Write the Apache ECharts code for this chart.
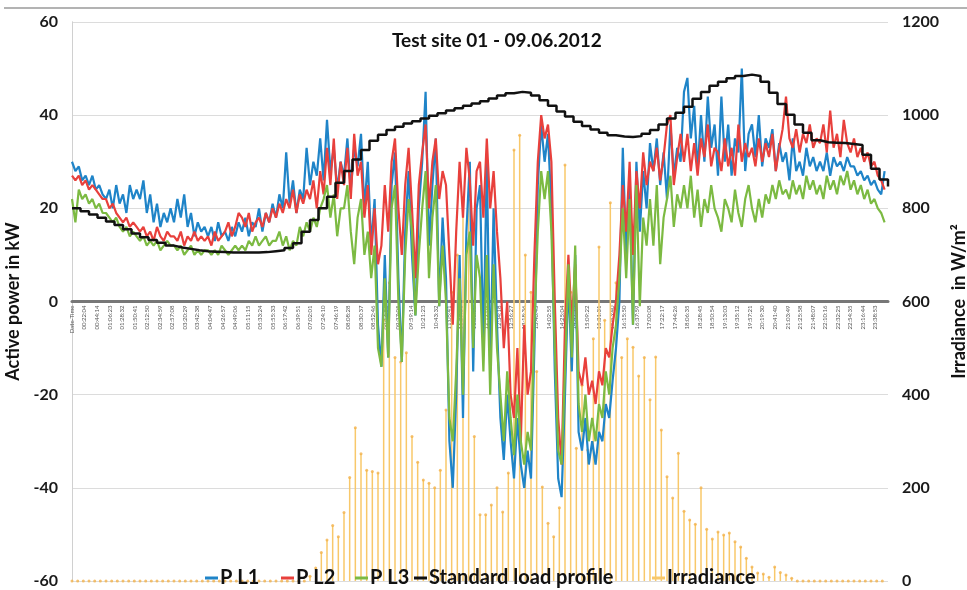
<!DOCTYPE html>
<html>
<head>
<meta charset="utf-8">
<script src="https://cdn.jsdelivr.net/npm/echarts@6/dist/echarts.min.js"></script>
<style>
  html, body { margin: 0; padding: 0; background: #fff; }
  #chart { width: 967px; height: 590px; }
</style>
</head>
<body>
<div id="chart"></div>
<script>
// x axis tick labels (one every ~22 min)
var xLabels = ['Date-Time','00:22:04','00:44:14','01:06:23','01:28:32','01:50:41','02:12:50','02:34:59','02:57:08',
  '03:20:29','03:42:38','04:04:47','04:26:57','04:49:06','05:11:15','05:33:24','05:55:33','06:17:42','06:39:51',
  '07:02:01','07:24:10','07:46:19','08:08:28','08:30:37','08:52:46','09:14:56','09:37:05','09:59:14','10:21:23',
  '10:43:32','11:05:41','11:27:51','11:50:00','12:12:09','12:34:18','12:56:27','13:18:36','13:40:45','14:02:55',
  '14:25:04','14:47:13','15:09:22','15:31:31','15:53:40','16:15:50','16:37:59','17:00:08','17:22:17','17:44:26',
  '18:06:35','18:28:45','18:50:54','19:13:03','19:35:12','19:57:21','20:19:30','20:41:40','21:03:49','21:25:58',
  '21:48:07','22:10:16','22:32:25','22:54:35','23:16:44','23:38:53']

// active power, one value every 6 minutes (kW)
var powerStep = 6
var pL1 = [
  30,28,29,26,27,25,27,24,25,23,  22,24,20,25,21,23,19,25,22,24,
  22,26,19,23,17,21,16,19,17,20,  17,22,18,23,16,19,14,17,15,16,
  14,16,13,17,14,15,13,16,14,17,  15,18,14,17,16,20,15,19,17,21,
  18,23,20,32,21,26,19,24,22,33,  25,30,27,35,26,39,28,33,24,30,
  27,35,24,33,29,36,20,30,12,22,  -5,-14,10,-12,25,32,5,-13,15,28,
  10,-3,20,30,45,12,25,35,-1,18,  5,-30,-40,-20,10,-25,15,30,-15,20,
  25,-10,30,-15,20,-5,-25,-34,-20,-30,  -38,-25,-35,-40,-32,-38,-10,25,38,30,
  36,20,-15,-38,-42,-20,5,-15,10,-28,  -32,-25,-35,-30,-35,-28,-30,-22,-25,-17,
  -10,0,33,10,25,-5,30,15,28,20,  34,28,35,25,32,22,38,27,33,30,
  45,48,35,42,28,40,30,44,33,38,  27,44,30,38,27,35,32,50,28,36,
  38,31,40,29,35,33,37,28,34,30,  32,26,35,28,30,27,33,29,31,28,
  30,28,32,27,31,29,30,28,31,29,  29,27,28,26,27,25,26,24,23,28
]
var pL2 = [
  27,26,27,25,26,24,25,24,23,22,  22,20,21,19,18,17,18,16,17,16,
  15,16,14,15,13,16,14,13,15,14,  14,13,15,12,14,13,15,13,14,13,
  14,12,15,13,14,15,17,14,16,19,  18,16,19,15,17,18,16,19,17,20,
  18,21,19,22,20,24,19,23,21,24,  22,26,20,28,23,33,25,35,22,30,
  25,33,22,36,27,30,18,25,10,20,  8,12,25,15,30,35,20,10,25,33,
  20,5,25,32,38,20,30,35,22,28,  25,10,-5,15,30,18,33,26,12,28,
  30,18,35,20,28,15,5,-10,0,-20,  -25,-10,-30,-5,-20,-15,10,30,40,35,
  38,30,0,-25,-35,-5,10,-5,8,-15,  -18,-12,-20,-17,-22,-15,-18,-10,-12,-5,
  0,10,25,15,30,10,28,20,32,25,  30,28,33,26,31,38,40,25,31,36,
  30,36,28,34,27,35,31,38,29,33,  32,28,35,29,33,27,38,30,34,31,
  33,29,35,30,34,31,36,28,33,37,  44,35,33,37,32,36,34,38,33,35,
  34,38,32,41,33,36,31,39,34,32,  35,31,33,30,32,29,30,27,26,24
]
var pL3 = [
  22,17,24,22,23,21,22,20,21,19,  19,18,17,18,16,15,16,14,15,14,
  13,14,12,13,12,13,11,12,13,12,  12,11,12,10,11,12,10,11,10,11,
  11,10,11,10,12,11,10,11,12,11,  12,11,13,12,14,12,13,14,12,13,
  13,15,12,14,11,13,12,16,14,17,  15,18,16,20,22,25,18,23,14,20,
  20,25,15,8,18,22,10,15,5,12,  -10,-14,5,-12,20,25,0,-13,10,22,
  15,-3,10,20,28,5,18,25,-1,12,  0,-25,-30,-15,5,-20,10,15,-10,10,
  5,-15,10,-20,8,-10,-20,-30,-15,-25,  -33,-20,-30,-35,-28,-32,-5,15,28,22,
  28,15,-10,-32,-35,-15,8,-12,12,-22,  -28,-20,-30,-25,-30,-22,-25,-15,-20,-10,
  -5,5,20,5,22,-5,25,-1,18,12,  22,12,25,8,18,22,27,16,23,20,
  25,20,27,18,24,16,22,19,25,20,  18,15,22,20,17,24,19,16,22,25,
  20,17,22,18,23,21,25,22,26,23,  24,22,26,23,25,22,27,24,26,23,
  25,22,27,24,26,23,27,25,28,24,  26,23,25,22,24,21,22,20,19,17
]

// standard load profile, quarter-hour values (kW)
var loadStep = 15
var loadProfile = [
  20.0,19.4,18.7,18.0,  17.2,16.4,15.5,14.6,  13.8,13.2,12.6,12.0,  11.6,11.3,11.0,10.8,
  10.7,10.6,10.5,10.5,  10.5,10.5,10.6,10.8,  11.0,11.5,12.5,15.0,  17.5,20.0,22.5,25.5,
  28.0,30.5,32.5,34.5,  35.8,36.8,37.5,38.2,  38.7,39.3,39.9,40.4,  41.0,41.5,42.0,42.5,
  43.0,43.6,44.2,44.7,  45.0,44.8,44.2,43.2,  42.0,40.8,39.7,38.6,  37.7,36.9,36.2,35.7,
  35.4,35.3,35.5,36.0,  36.8,38.0,39.3,40.5,  41.8,43.5,45.0,46.3,  47.2,47.9,48.4,48.7,
  48.4,47.2,44.8,42.4,  40.1,38.0,36.2,34.6,  34.2,34.1,34.0,33.8,  33.6,31.5,28.5,26.2,
  24.7
]

// irradiance, one value every 10 minutes (W/m²)
var irrStep = 10
var irradiance = [
  0,0,0,0,0,0,0,0,0,0,  0,0,0,0,0,0,0,0,0,0,
  0,0,0,0,0,0,0,0,0,0,  0,0,0,0,0,0,0,0,0,0,
  0,0,10,28,61,88,119,95,147,222,
  329,273,238,235,232,560,640,480,470,490,
  310,255,217,210,200,238,367,620,700,824,
  818,310,142,142,163,200,148,232,925,957,
  700,620,450,202,124,95,157,893,620,285,
  420,281,520,717,560,812,640,480,520,502,
  440,480,389,481,324,224,178,274,150,131,
  122,200,111,90,105,99,103,84,73,49,
  30,17,15,8,30,18,13,6,0,0,
  0,0,0,0,0,0,0,0,0,0,  0,0,0,0
]

var legendNames = ['P L1', 'P L2', 'P L3', 'Standard load profile', 'Irradiance']
var legendLeft = [205, 281, 355, 414, 652]

var blue = '#1f84c8'
var red = '#e8403c'
var green = '#7cba42'
var yellow = '#f8c86a'
var labelStep = 1440 / 65
var font = 'Lato, "Open Sans", sans-serif'

function pairs(arr, step) {
  return arr.map(function (v, i) { return [i * step, v] })
}

var legends = legendNames.map(function (n, i) {
  return {
    data: [n],
    zlevel: 2,
    left: legendLeft[i],
    top: 568,
    padding: 0,
    itemWidth: 13,
    itemHeight: 3,
    icon: 'rect',
    itemGap: 0,
    textStyle: { fontSize: 20, fontWeight: 'bold', color: '#111', fontFamily: font, padding: [0, 0, 0, -3] }
  }
})

var chart = echarts.init(document.getElementById('chart'))
chart.setOption({
  animation: false,
  backgroundColor: '#fff',
  textStyle: { fontFamily: font },
  title: {
    text: 'Test site 01 - 09.06.2012',
    left: 387,
    top: 26,
    zlevel: 2,
    textStyle: { fontSize: 19, fontWeight: 'bold', color: '#111', fontFamily: font }
  },
  graphic: [{
    type: 'line',
    shape: { x1: 4, y1: 8, x2: 967, y2: 8 },
    style: { stroke: '#9a9a9a', lineWidth: 1.5 }
  }],
  legend: legends,
  grid: { left: 72, right: 79, top: 22, bottom: 9, outerBoundsMode: 'none', containLabel: false },
  xAxis: {
    type: 'value',
    min: 0,
    max: 1440,
    interval: labelStep,
    // sit the time axis on the 0 kW line
    offset: -279.5,
    axisLine: { onZero: false, lineStyle: { color: '#777', width: 3 } },
    axisTick: { show: false },
    splitLine: { show: false },
    axisLabel: {
      rotate: 90,
      fontSize: 6,
      color: '#555',
      margin: 4,
      showMaxLabel: false,
      formatter: function (v) {
        var i = Math.round(v / labelStep)
        return i < xLabels.length ? xLabels[i] : ''
      }
    }
  },
  yAxis: [{
    type: 'value',
    min: -60,
    max: 60,
    interval: 20,
    name: 'Active power in kW',
    nameLocation: 'middle',
    nameGap: 44,
    nameTextStyle: { fontSize: 18, fontWeight: 'bold', color: '#111' },
    axisLine: { show: true, onZero: false, lineStyle: { color: '#d0d0d0' } },
    axisTick: { show: false },
    axisLabel: { fontSize: 16, fontWeight: 'bold', color: '#1a1a1a', margin: 14 },
    splitLine: { lineStyle: { color: '#dcdcdc' } }
  }, {
    type: 'value',
    min: 0,
    max: 1200,
    interval: 200,
    name: 'Irradiance  in W/m²',
    nameLocation: 'middle',
    nameGap: 59,
    nameTextStyle: { fontSize: 18, fontWeight: 'bold', color: '#111' },
    axisLine: { show: true, lineStyle: { color: '#d0d0d0' } },
    axisTick: { show: false },
    axisLabel: {
      fontSize: 16, fontWeight: 'bold', color: '#1a1a1a', margin: 14,
      formatter: function (v) { return String(v) }
    },
    splitLine: { show: false }
  }],
  series: [{
    name: 'Irradiance',
    type: 'bar',
    zlevel: 1,
    yAxisIndex: 1,
    barWidth: 1.5,
    itemStyle: { color: yellow },
    data: pairs(irradiance, irrStep)
  }, {
    name: 'Irradiance dots',
    type: 'scatter',
    zlevel: 1,
    yAxisIndex: 1,
    symbolSize: 3,
    itemStyle: { color: '#f2b24a' },
    silent: true,
    data: pairs(irradiance, irrStep)
  }, {
    name: 'P L1',
    type: 'line',
    zlevel: 1,
    showSymbol: false,
    itemStyle: { color: blue },
    lineStyle: { color: blue, width: 2.2 },
    data: pairs(pL1, powerStep)
  }, {
    name: 'P L2',
    type: 'line',
    zlevel: 1,
    showSymbol: false,
    itemStyle: { color: red },
    lineStyle: { color: red, width: 2.2 },
    data: pairs(pL2, powerStep)
  }, {
    name: 'P L3',
    type: 'line',
    zlevel: 1,
    showSymbol: false,
    itemStyle: { color: green },
    lineStyle: { color: green, width: 2.2 },
    data: pairs(pL3, powerStep)
  }, {
    name: 'Standard load profile',
    type: 'line',
    zlevel: 1,
    step: 'end',
    showSymbol: false,
    itemStyle: { color: '#111' },
    lineStyle: { color: '#111', width: 2.5 },
    data: pairs(loadProfile, loadStep)
  }]
})
</script>
</body>
</html>
